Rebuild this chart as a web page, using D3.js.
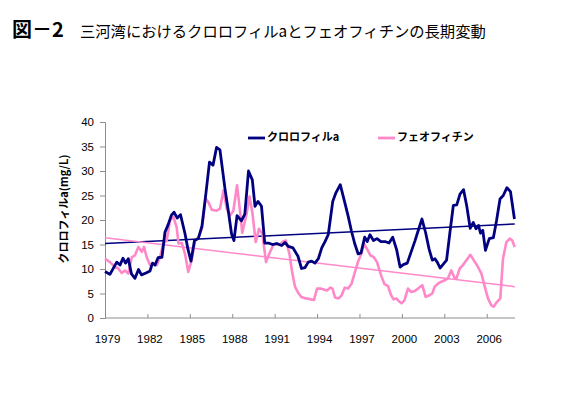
<!DOCTYPE html>
<html>
<head>
<meta charset="utf-8">
<script src="https://cdn.jsdelivr.net/npm/d3@7"></script>
<style>
  html, body { margin: 0; padding: 0; background: #fff; }
  svg { display: block; }
</style>
</head>
<body>
<svg id="chart" width="567" height="399"></svg>
<script>
// ---- data ----
const titleBold = "図－2";
const titleText = "三河湾におけるクロロフィルaとフェオフィチンの長期変動";
const yLabel = "クロロフィルa(mg/L)";
const seriesNames = ["クロロフィルa", "フェオフィチン"];
const xTickYears = [1979, 1982, 1985, 1988, 1991, 1994, 1997, 2000, 2003, 2006];
const yTicks = [0, 5, 10, 15, 20, 25, 30, 35, 40];

const chlYears = [1979.00,1979.35,1979.83,1980.06,1980.27,1980.45,1980.65,1980.87,1981.12,1981.37,1981.58,1981.90,
  1982.18,1982.36,1982.54,1982.75,1983.03,1983.24,1983.46,1983.70,1983.88,1984.11,1984.34,1984.66,1984.87,
  1985.08,1985.33,1985.60,1985.86,1986.14,1986.39,1986.64,1986.89,1987.13,1987.49,1987.72,1987.95,1988.12,
  1988.34,1988.65,1988.89,1989.15,1989.42,1989.61,1989.82,1990.07,1990.30,1990.55,1990.86,1991.14,1991.50,
  1991.73,1991.97,1992.30,1992.65,1992.90,1993.15,1993.38,1993.62,1993.85,1994.09,1994.33,1994.56,1994.79,
  1995.11,1995.34,1995.64,1995.94,1996.19,1996.42,1996.66,1996.90,1997.11,1997.37,1997.55,1997.74,1997.99,
  1998.24,1998.52,1998.81,1999.09,1999.35,1999.63,1999.87,2000.10,2000.38,2000.68,2000.93,2001.16,2001.42,
  2001.68,2001.92,2002.15,2002.34,2002.52,2002.70,2002.93,2003.16,2003.39,2003.64,2003.88,2004.11,2004.36,
  2004.59,2004.83,2005.05,2005.24,2005.42,2005.56,2005.72,2005.91,2006.18,2006.47,2006.69,2006.94,2007.17,
  2007.43,2007.68,2007.82,2007.96];
const chlValues = [9.5,8.9,11.4,10.8,12.2,11.2,12.1,9.0,8.1,9.9,8.8,9.2,
  9.6,11.2,10.8,12.3,12.4,17.5,19.0,21.0,21.6,20.4,21.1,17.2,14.0,
  11.6,15.8,16.2,18.8,25.5,31.8,31.2,34.8,34.3,26.3,21.9,17.2,15.8,
  20.9,19.8,21.2,30.0,28.2,22.8,23.8,22.8,15.3,15.3,15.0,15.2,14.8,
  15.4,14.6,14.3,12.6,10.1,10.3,11.4,11.6,11.2,12.1,14.3,15.6,17.0,
  23.8,25.6,27.2,23.8,20.9,17.9,15.2,13.1,13.3,16.5,15.6,17.0,15.8,
  16.2,15.6,15.6,15.3,16.5,13.9,10.4,10.9,11.2,13.7,15.8,17.9,20.2,
  17.4,14.1,11.8,12.1,11.3,10.2,11.0,11.8,17.3,23.0,23.1,25.3,26.2,
  22.8,18.3,19.5,18.2,18.9,17.3,17.9,13.8,16.2,16.4,19.8,24.3,25.0,
  26.6,25.8,23.0,20.2];

const pheYears = [1979.00,1979.35,1979.71,1979.94,1980.18,1980.41,1980.65,1980.89,1981.12,1981.36,1981.60,1981.76,
  1981.95,1982.18,1982.42,1982.66,1982.89,1983.12,1983.36,1983.60,1983.83,1984.07,1984.20,1984.43,1984.66,
  1984.89,1985.13,1985.37,1985.60,1985.86,1986.11,1986.32,1986.55,1986.90,1987.13,1987.38,1987.61,1987.84,
  1988.08,1988.34,1988.55,1988.71,1989.02,1989.22,1989.42,1989.66,1989.89,1990.13,1990.39,1990.62,1990.88,
  1991.12,1991.36,1991.59,1991.80,1992.05,1992.23,1992.44,1992.65,1992.88,1993.22,1993.57,1993.78,1994.00,
  1994.24,1994.48,1994.70,1994.95,1995.09,1995.27,1995.52,1995.73,1995.96,1996.19,1996.44,1996.67,1996.90,
  1997.13,1997.32,1997.53,1997.77,1998.01,1998.24,1998.54,1998.77,1999.02,1999.23,1999.41,1999.60,1999.83,
  1999.97,2000.18,2000.43,2000.66,2000.91,2001.14,2001.44,2001.68,2001.92,2002.15,2002.32,2002.55,2002.79,
  2003.03,2003.26,2003.49,2003.72,2003.86,2004.09,2004.32,2004.56,2004.84,2005.08,2005.31,2005.62,2005.86,
  2006.09,2006.32,2006.49,2006.73,2006.96,2007.15,2007.39,2007.63,2007.81,2007.98];
const pheValues = [12.1,11.4,10.4,10.1,9.2,9.7,9.1,12.4,12.8,14.5,13.5,14.5,
  12.4,10.8,11.1,10.8,12.4,15.2,15.8,19.9,20.7,18.5,15.2,15.3,13.1,
  9.4,11.8,15.8,16.5,18.2,24.4,23.6,22.1,21.9,22.3,26.0,22.3,20.9,
  21.9,27.1,21.8,17.4,21.3,24.8,21.6,15.5,18.2,17.2,11.4,13.1,14.8,
  15.2,14.9,15.6,15.8,13.0,9.5,6.4,5.2,4.3,4.0,3.8,3.7,6.0,
  6.0,5.8,5.6,6.2,6.0,4.2,4.0,4.6,6.2,6.0,7.0,9.3,11.5,
  13.1,15.2,14.1,12.8,12.4,11.4,8.6,6.9,6.5,4.7,3.8,4.0,3.3,
  3.0,3.6,6.0,5.3,5.5,6.0,6.7,4.3,4.6,5.0,6.4,7.0,7.4,
  7.7,8.1,9.7,8.2,8.1,10.1,10.8,11.8,12.9,11.8,10.8,9.1,6.4,
  4.0,2.6,2.3,3.3,4.0,12.1,15.5,16.2,15.8,14.5];

// linear trend lines (start / end values over the data span)
const trendYears = [1979.0, 2007.98];
const chlTrend = [15.2, 19.2];
const pheTrend = [16.4, 6.4];

// ---- drawing ----
const colors = ["#000080", "#ff88c8"];
const svg = d3.select("#chart");
const x = d3.scaleLinear().domain([1979, 2008]).range([105, 515]);
const y = d3.scaleLinear().domain([0, 40]).range([318, 122]);
const jp = "'Noto Sans CJK JP', 'Noto Sans', sans-serif";
const num = "'Liberation Sans', Arial, sans-serif";

// title
const t = svg.append("text").attr("x", 12).attr("y", 37).attr("font-family", jp).attr("fill", "#000");
t.append("tspan").attr("font-size", 20).attr("font-weight", "bold").text(titleBold);
t.append("tspan").attr("x", 80).attr("font-size", 15.3).attr("font-weight", "normal").text(titleText);

// axes
const yAxis = d3.axisLeft(y).tickValues(yTicks).tickSize(5).tickPadding(6);
const gy = svg.append("g").attr("transform", "translate(105,0)").call(yAxis);
gy.select(".domain").attr("stroke", "#8c8c8c");
gy.selectAll(".tick line").attr("stroke", "#8c8c8c");
gy.selectAll(".tick text").attr("font-family", num).attr("font-size", 11.5).attr("fill", "#000");

const xAxis = d3.axisBottom(x).tickValues(xTickYears).tickSize(-4).tickFormat(d3.format("d")).tickPadding(17);
const gx = svg.append("g").attr("transform", "translate(0,318)").call(xAxis);
gx.select(".domain").attr("stroke", "#8c8c8c").attr("d", `M${x(1979)},0H${x(2008)}`);
gx.selectAll(".tick line").attr("stroke", "#8c8c8c").attr("opacity", d => d === 1979 ? 0 : 1);
gx.selectAll(".tick text").attr("font-family", num).attr("font-size", 11.5).attr("fill", "#000").attr("dx", 2);

// y label
svg.append("text").attr("transform", "translate(65,209) rotate(-90)")
  .attr("text-anchor", "middle").attr("dominant-baseline", "middle")
  .attr("font-family", jp).attr("font-size", 11).attr("font-weight", "bold").attr("fill", "#000").text(yLabel);

// trend lines
const tl = d3.line().x(d => x(d[0])).y(d => y(d[1]));
svg.append("path").attr("d", tl(d3.zip(trendYears, chlTrend))).attr("fill", "none").attr("stroke", colors[0]).attr("stroke-width", 1.5);
svg.append("path").attr("d", tl(d3.zip(trendYears, pheTrend))).attr("fill", "none").attr("stroke", colors[1]).attr("stroke-width", 1.5);

// series
const line = d3.line().x(d => x(d[0])).y(d => y(d[1]));
svg.append("path").attr("d", line(d3.zip(pheYears, pheValues))).attr("fill", "none")
  .attr("stroke", colors[1]).attr("stroke-width", 2.6).attr("stroke-linejoin", "round");
svg.append("path").attr("d", line(d3.zip(chlYears, chlValues))).attr("fill", "none")
  .attr("stroke", colors[0]).attr("stroke-width", 2.8).attr("stroke-linejoin", "round");

// legend
const legX = [248, 378];
seriesNames.forEach((n, i) => {
  svg.append("line").attr("x1", legX[i]).attr("x2", legX[i] + 17).attr("y1", 138).attr("y2", 138)
    .attr("stroke", colors[i]).attr("stroke-width", 2.8);
  svg.append("text").attr("x", legX[i] + 19).attr("y", 138).attr("dominant-baseline", "middle")
    .attr("font-family", jp).attr("font-size", 11).attr("font-weight", "bold").attr("fill", "#000").text(n);
});
</script>
</body>
</html>
